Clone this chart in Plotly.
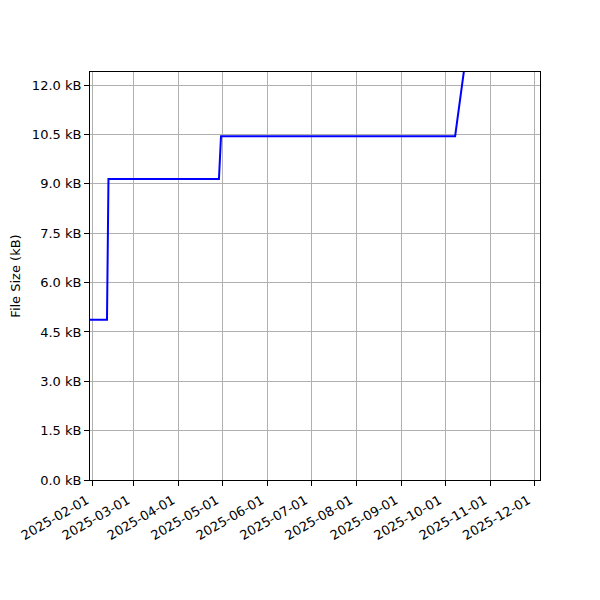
import plotly.graph_objects as go

# Data
dates = [
    "2025-01-29 00:00",
    "2025-02-10 18:00",
    "2025-02-11 18:00",
    "2025-04-28 14:00",
    "2025-04-30 00:00",
    "2025-10-07 16:00",
    "2025-10-15 00:00",
]
size_kb = [4.87, 4.87, 9.15, 9.15, 10.45, 10.45, 12.85]

x_ticks = ["2025-02-01", "2025-03-01", "2025-04-01", "2025-05-01", "2025-06-01",
           "2025-07-01", "2025-08-01", "2025-09-01", "2025-10-01", "2025-11-01",
           "2025-12-01"]
y_ticks = [0, 1.5, 3.0, 4.5, 6.0, 7.5, 9.0, 10.5, 12.0]

fig = go.Figure()
fig.add_trace(go.Scatter(
    x=dates, y=size_kb, mode="lines",
    line=dict(color="#0000ff", width=2),
    showlegend=False,
))

font = dict(family="DejaVu Sans", size=13, color="black")

fig.update_layout(
    width=600, height=600,
    margin=dict(l=82, r=68, t=64, b=128, autoexpand=False),
    paper_bgcolor="white", plot_bgcolor="white",
    font=font,
)
fig.update_xaxes(
    range=["2025-01-30 02:00", "2025-12-04 22:00"],
    tickvals=x_ticks, ticktext=x_ticks,
    tickangle=-30,
    ticklabelshift=-6, ticklabelstandoff=2,
    showgrid=True, gridcolor="#b0b0b0", gridwidth=1,
    showline=True, linecolor="black", linewidth=1, mirror=True,
    ticks="outside", ticklen=5, tickcolor="black", tickwidth=1,
    tickfont=font, zeroline=False,
)
fig.update_yaxes(
    range=[0, 12.4],
    tickvals=y_ticks, ticktext=[f"{v:.1f} kB" for v in y_ticks],
    showgrid=True, gridcolor="#b0b0b0", gridwidth=1,
    showline=True, linecolor="black", linewidth=1, mirror=True,
    ticks="outside", ticklen=5, tickcolor="black", tickwidth=1,
    tickfont=font, zeroline=False,
    title=dict(text="File Size (kB)", font=font, standoff=12),
)

fig.write_html("out.html")
